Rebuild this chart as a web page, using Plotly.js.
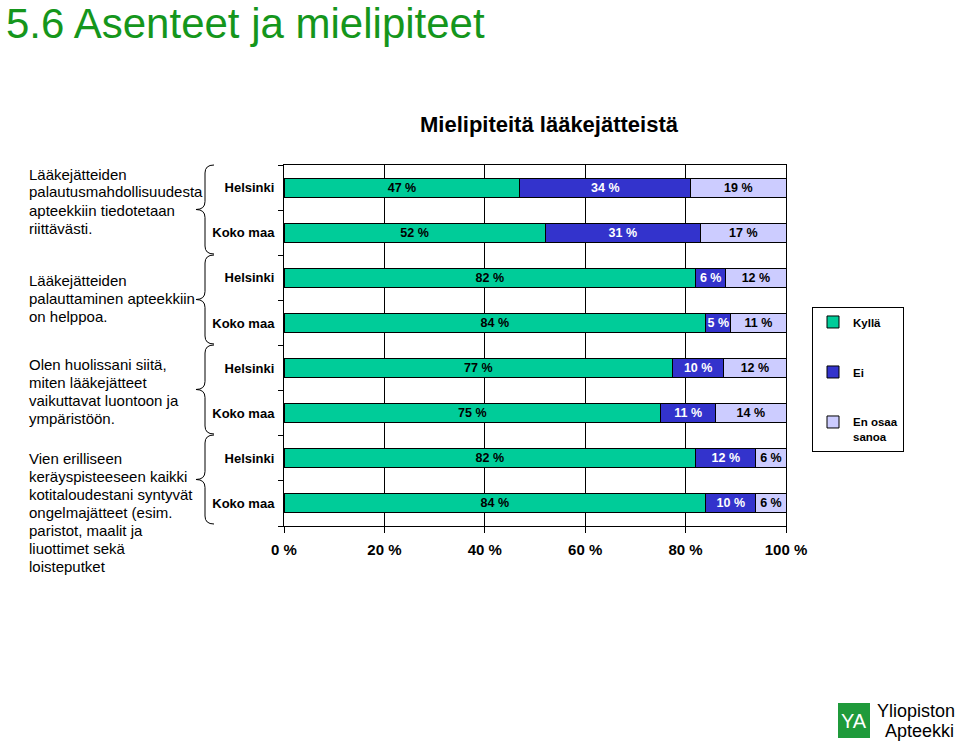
<!DOCTYPE html>
<html>
<head>
<meta charset="utf-8">
<script src="https://cdn.plot.ly/plotly-3.0.1.min.js"></script>
<style>html,body{margin:0;padding:0;background:#fff;}#chart{width:960px;height:743px;}</style>
</head>
<body>
<div id="chart"></div>
<script>
// ---- data ----
const barIds = ['Q1 Helsinki','Q1 Koko maa','Q2 Helsinki','Q2 Koko maa','Q3 Helsinki','Q3 Koko maa','Q4 Helsinki','Q4 Koko maa'];
const tickLabels = ['Helsinki','Koko maa','Helsinki','Koko maa','Helsinki','Koko maa','Helsinki','Koko maa'];
const kylla  = [47, 52, 82, 84, 77.4, 75, 82, 84];
const ei     = [34, 31, 6, 5, 10.2, 11, 12, 10];
const enOsaa = [19, 17, 12, 11, 12.4, 14, 6, 6];
const seriesNames = ['Kyllä', 'Ei', 'En osaa<br>sanoa'];
const xTicks = [0, 20, 40, 60, 80, 100];
const xTickText = ['0 %', '20 %', '40 %', '60 %', '80 %', '100 %'];
const questions = [
  ['Lääkejätteiden', 'palautusmahdollisuudesta', 'apteekkiin tiedotetaan', 'riittävästi.'],
  ['Lääkejätteiden', 'palauttaminen apteekkiin', 'on helppoa.'],
  ['Olen huolissani siitä,', 'miten lääkejätteet', 'vaikuttavat luontoon ja', 'ympäristöön.'],
  ['Vien erilliseen', 'keräyspisteeseen kaikki', 'kotitaloudestani syntyvät', 'ongelmajätteet (esim.', 'paristot, maalit ja', 'liuottimet sekä', 'loisteputket']
];
const pageHeading = '5.6 Asenteet ja mielipiteet';
const chartTitle = 'Mielipiteitä lääkejätteistä';

// ---- layout geometry ----
const W = 960, H = 743;
const L = 284, R = 786, T = 165, B = 526;
const px = x => (x - L) / (R - L);
const py = y => (B - y) / (B - T);
const FONT = 'Liberation Sans, Arial, sans-serif';

const colors = ['#00CC99', '#3333CC', '#CCCCFF'];
const textColors = ['#000000', '#ffffff', '#000000'];
const series = [kylla, ei, enOsaa];

const traces = series.map((vals, i) => ({
  type: 'bar',
  orientation: 'h',
  name: seriesNames[i],
  legendgroup: 'g' + i,
  y: barIds,
  x: vals,
  marker: {color: colors[i], line: {color: '#000', width: 1}},
  texttemplate: '%{x:.0f} %',
  textposition: 'inside',
  insidetextanchor: 'middle',
  textangle: 0,
  constraintext: 'none',
  insidetextfont: {family: FONT, size: 12.5, color: textColors[i], weight: 'bold'},
  hoverinfo: 'x+name'
}));

const annotations = [];
annotations.push({
  xref: 'paper', yref: 'paper', x: px(4), y: py(24), xanchor: 'left', yanchor: 'middle',
  text: pageHeading, showarrow: false, font: {family: FONT, size: 42, color: '#15961c'}
});
const qLineStarts = [174, 280, 364, 458];
questions.forEach((lines, g) => {
  lines.forEach((t, k) => {
    annotations.push({
      xref: 'paper', yref: 'paper', x: px(27), y: py(qLineStarts[g] + 18 * k),
      xanchor: 'left', yanchor: 'middle', text: t, showarrow: false,
      font: {family: FONT, size: 15, color: '#000'}
    });
  });
});
// logo text
annotations.push({xref:'paper', yref:'paper', x: px(854), y: py(721), xanchor:'center', yanchor:'middle',
  text:'YA', showarrow:false, font:{family: FONT, size: 20, color:'#fff'}});
annotations.push({xref:'paper', yref:'paper', x: px(875), y: py(711), xanchor:'left', yanchor:'middle',
  text:'Yliopiston', showarrow:false, font:{family: FONT, size: 18, color:'#000'}});
annotations.push({xref:'paper', yref:'paper', x: px(883), y: py(731), xanchor:'left', yanchor:'middle',
  text:'Apteekki', showarrow:false, font:{family: FONT, size: 18, color:'#000'}});

// braces
const shapes = [];
for (let g = 0; g < 4; g++) {
  const top = 165 + 90 * g, bot = 254 + 90 * g, mid = (top + bot) / 2;
  const xv = 205, xe = 214, xt = 196, r = 8;
  const P = (x, y) => px(x).toFixed(5) + ',' + py(y).toFixed(5);
  const path = 'M' + P(xe, top) + ' Q' + P(xv, top) + ' ' + P(xv, top + r) +
    ' L' + P(xv, mid - r) + ' Q' + P(xv, mid) + ' ' + P(xt, mid) +
    ' Q' + P(xv, mid) + ' ' + P(xv, mid + r) +
    ' L' + P(xv, bot - r) + ' Q' + P(xv, bot) + ' ' + P(xe, bot);
  shapes.push({type: 'path', xref: 'paper', yref: 'paper', path: path, line: {color: '#000', width: 1}});
}
// logo square
shapes.push({type:'rect', xref:'paper', yref:'paper', x0: px(838), x1: px(870), y0: py(738), y1: py(703),
  fillcolor:'#1f9a3b', line:{width:0}});

const layout = {
  width: W, height: H,
  margin: {l: L, r: W - R, t: T, b: H - B, pad: 0},
  paper_bgcolor: '#fff', plot_bgcolor: '#fff',
  barmode: 'stack',
  bargap: 0.58,
  title: {text: chartTitle, xref: 'container', yref: 'container', x: 549 / W, xanchor: 'center',
          y: 1 - 124 / H, yanchor: 'middle', font: {family: FONT, size: 22, color: '#000', weight: 'bold'}},
  xaxis: {
    range: [0, 100], tickmode: 'array', tickvals: xTicks, ticktext: xTickText,
    showgrid: true, gridcolor: '#000', gridwidth: 1, zeroline: false,
    showline: true, linecolor: '#000', linewidth: 1, mirror: true,
    ticks: 'outside', ticklen: 6, tickcolor: '#000',
    ticklabelstandoff: 4,
    tickfont: {family: FONT, size: 15, color: '#000', weight: 'bold'},
    fixedrange: true
  },
  yaxis: {
    type: 'category', categoryorder: 'array', categoryarray: barIds, autorange: 'reversed',
    tickmode: 'array', tickvals: barIds, ticktext: tickLabels,
    tickson: 'boundaries', ticks: 'outside', ticklen: 5, tickcolor: '#000',
    showgrid: false, showline: true, linecolor: '#000', linewidth: 1, mirror: true,
    tickfont: {family: FONT, size: 13, color: '#000', weight: 'bold'},
    ticklabelstandoff: 6,
    fixedrange: true
  },
  showlegend: true,
  legend: {
    x: px(812), y: py(307), xanchor: 'left', yanchor: 'top',
    bordercolor: '#000', borderwidth: 1, bgcolor: '#fff',
    font: {family: FONT, size: 11.5, color: '#000', weight: 'bold'},
    traceorder: 'grouped', tracegroupgap: 31, itemwidth: 30, valign: 'top'
  },
  annotations: annotations,
  shapes: shapes,
  font: {family: FONT}
};

Plotly.newPlot('chart', traces, layout, {displayModeBar: false, staticPlot: true});
</script>
</body>
</html>
